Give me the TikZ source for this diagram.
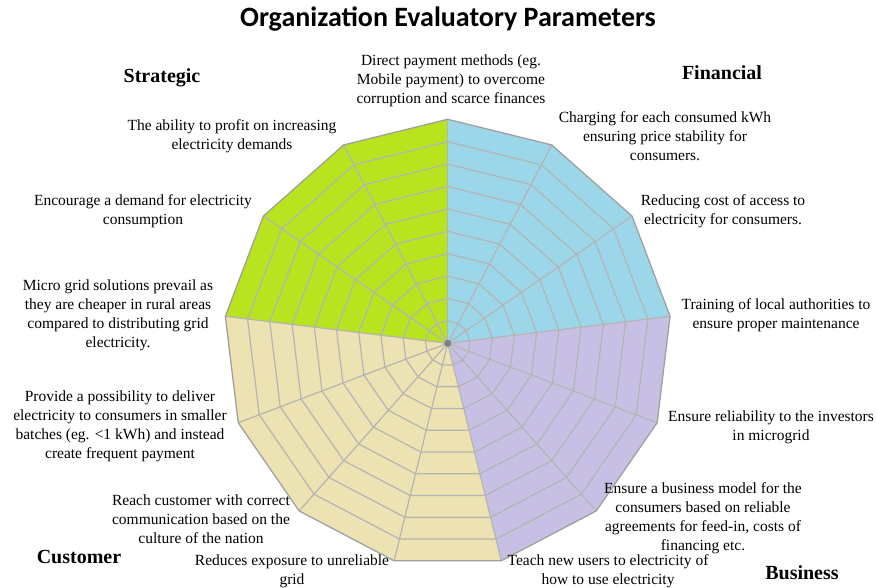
\documentclass[tikz,border=0pt]{standalone}
\usepackage{fontspec}
\setmainfont{Liberation Serif}
\newfontfamily\titlefont{Carlito}
\definecolor{cgreen}{RGB}{183,228,31}
\definecolor{cblue}{RGB}{155,215,232}
\definecolor{clav}{RGB}{200,192,228}
\definecolor{cbeige}{RGB}{237,226,178}
\definecolor{cgrid}{RGB}{180,180,180}
\definecolor{cedge}{RGB}{160,160,160}
\begin{document}
\begin{tikzpicture}[x=1pt,y=-1pt,
  lbl/.style={align=center, inner sep=0pt, font=\fontsize{15.5}{19}\selectfont},
  head/.style={inner sep=0pt, anchor=base, font=\fontsize{20}{24}\selectfont\bfseries},
  gridline/.style={draw=cgrid, line width=1.2pt, line join=round}]
\useasboundingbox (0,0) rectangle (877,588);
\def\cx{447.7}\def\cy{343.3}\def\R{224}
% sectors
\foreach \k/\col in {0/cblue,1/cblue,2/cblue,3/clav,4/clav,5/clav,6/cbeige,7/cbeige,8/cbeige,9/cbeige,10/cgreen,11/cgreen,12/cgreen}{
  \pgfmathsetmacro\aa{90-\k*360/13}
  \pgfmathsetmacro\ab{90-(\k+1)*360/13}
  \fill[\col] (\cx,\cy) -- ({\cx+\R*cos(\aa)},{\cy-\R*sin(\aa)}) -- ({\cx+\R*cos(\ab)},{\cy-\R*sin(\ab)}) -- cycle;
}
% rings
\foreach \i in {1,...,9}{
  \pgfmathsetmacro\r{\R*\i/10}
  \draw[gridline] ({\cx},{\cy-\r}) \foreach \k in {1,...,12}{ -- ({\cx+\r*cos(90-\k*360/13)},{\cy-\r*sin(90-\k*360/13)}) } -- cycle;
}
% spokes
\foreach \k in {0,...,12}{
  \draw[gridline] (\cx,\cy) -- ({\cx+\R*cos(90-\k*360/13)},{\cy-\R*sin(90-\k*360/13)});
}
% outer border
\draw[draw=cedge, line width=1.3pt, line join=round] ({\cx},{\cy-\R}) \foreach \k in {1,...,12}{ -- ({\cx+\R*cos(90-\k*360/13)},{\cy-\R*sin(90-\k*360/13)}) } -- cycle;
\fill[gray] (\cx,\cy) circle (3.5);

% title
\node[inner sep=0pt, font=\titlefont\bfseries\fontsize{28}{32}\selectfont] (title) at (448,19) {Organization Evaluatory Parameters};
% headings
\node[head] (strategic) at (162,83) {Strategic};
\node[head] (financial) at (722,80) {Financial};
\node[head] (customer) at (79,563) {Customer};
\node[head] (business) at (802,579) {Business};
% labels
\node[lbl] (l0) at (451,81) {Direct payment methods (eg.\\Mobile payment) to overcome\\corruption and scarce finances};
\node[lbl] (l1) at (665,136.5) {Charging for each consumed kWh\\ensuring price stability for\\consumers.};
\node[lbl] (l2) at (723,211.5) {Reducing cost of access to\\electricity for consumers.};
\node[lbl] (l3) at (776,315) {Training of local authorities to\\ensure proper maintenance};
\node[lbl] (l4) at (771,427.5) {Ensure reliability to the investors\\in microgrid};
\node[lbl] (l5) at (703,518) {Ensure a business model for the\\consumers based on reliable\\agreements for feed-in, costs of\\financing etc.};
\node[lbl] (l6) at (608,571) {Teach new users to electricity of\\how to use electricity};
\node[lbl] (l7) at (292,571) {Reduces exposure to unreliable\\grid};
\node[lbl] (l8) at (201,519) {Reach customer with correct\\communication based on the\\culture of the nation};
\node[lbl] (l9) at (120,426.5) {Provide a possibility to deliver\\electricity to consumers in smaller\\batches (eg. <1 kWh) and instead\\create frequent payment};
\node[lbl] (l10) at (118,315.5) {Micro grid solutions prevail as\\they are cheaper in rural areas\\compared to distributing grid\\electricity.};
\node[lbl] (l11) at (143,211.5) {Encourage a demand for electricity\\consumption};
\node[lbl] (l12) at (232,136) {The ability to profit on increasing\\electricity demands};
\end{tikzpicture}
\end{document}
